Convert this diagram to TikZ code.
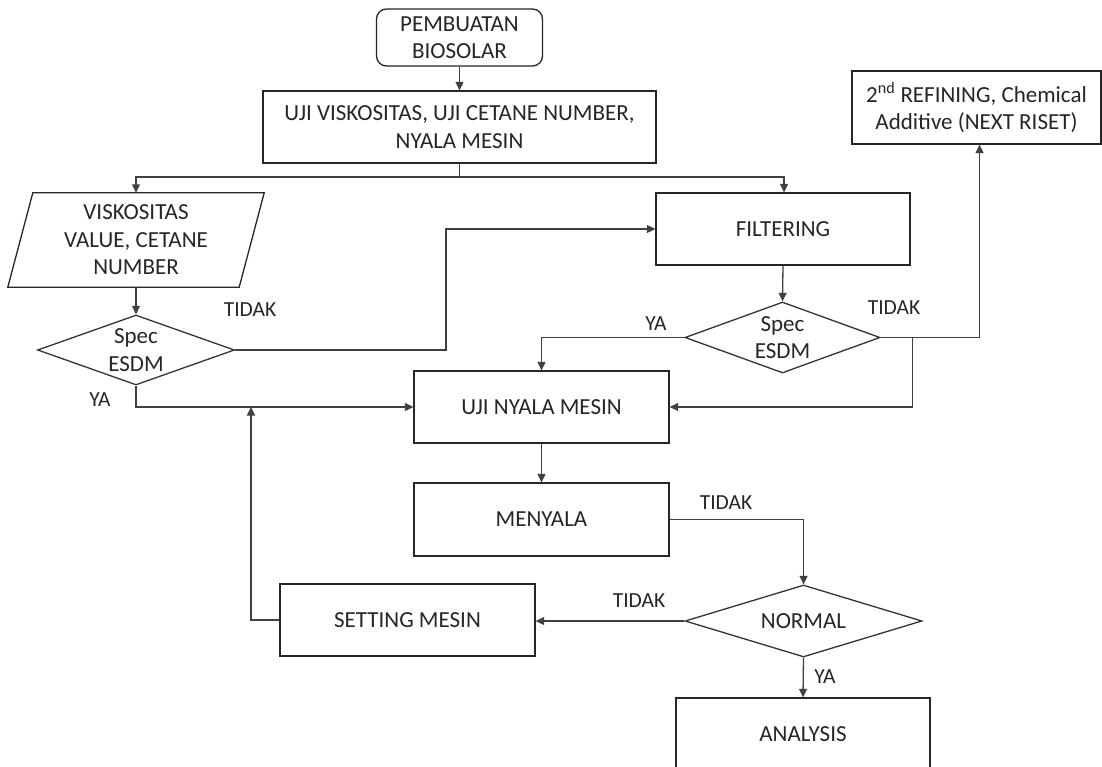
\documentclass[tikz,border=0pt]{standalone}
\usepackage{fontspec}
\setmainfont{Carlito}
\usetikzlibrary{shapes.geometric,arrows.meta,calc}
\begin{document}
\begin{tikzpicture}[x=1pt,y=-1pt,
  every node/.style={font=\fontsize{23}{27.5}\selectfont, text=black!85, align=center},
  box/.style={draw=black!85, line width=1.3pt, rectangle, inner sep=0pt},
  dia/.style={draw=black!80, line width=1.3pt, diamond, inner sep=0pt},
  lbl/.style={font=\fontsize{21.5}{25}\selectfont},
  conn/.style={draw=black!75, line width=1.3pt},
  arr/.style={conn, -{Triangle[length=8.5pt,width=8pt]}}
]
\clip (0,0) rectangle (1102,767);
\fill[white] (0,0) rectangle (1102,767);

\node[box, rounded corners=10pt, minimum width=166pt, minimum height=57pt] (start) at (459.5,37.5) {PEMBUATAN\\BIOSOLAR};
\node[box, minimum width=393pt, minimum height=72pt] (uji) at (459.5,127) {UJI VISKOSITAS, UJI CETANE NUMBER,\\NYALA MESIN};
\node[inner sep=0pt, minimum width=231pt, minimum height=94pt] (data) at (136,240) {VISKOSITAS\\VALUE, CETANE\\NUMBER};
\draw[draw=black!85, line width=1.3pt] ($(data.north west)+(12.5,0)$) -- ($(data.north east)+(12.5,0)$) -- ($(data.south east)+(-12.5,0)$) -- ($(data.south west)+(-12.5,0)$) -- cycle;
\node[box, minimum width=254pt, minimum height=72pt] (filter) at (783,229) {FILTERING};
\node[box, minimum width=249pt, minimum height=73pt] (ref) at (976.5,107.5) {2\textsuperscript{nd} REFINING, Chemical\\Additive (NEXT RISET)};
\node[dia, minimum width=197pt, minimum height=70pt, label={[align=center]center:Spec\\ESDM}] (d1) at (136,350) {};
\node[dia, minimum width=195pt, minimum height=71pt, label={[align=center]center:Spec\\ESDM}] (d2) at (782.5,337.5) {};
\node[box, minimum width=255pt, minimum height=72pt] (nyala) at (541.5,407) {UJI NYALA MESIN};
\node[box, minimum width=255pt, minimum height=73pt] (menyala) at (541.5,519.5) {MENYALA};
\node[dia, minimum width=237pt, minimum height=72pt, label={center:NORMAL}] (normal) at (803.5,621) {};
\node[box, minimum width=255pt, minimum height=72pt] (setting) at (407.5,620) {SETTING MESIN};
\node[box, minimum width=254pt, minimum height=72pt] (analysis) at (803,734) {ANALYSIS};

\node[lbl] (t1) at (250,310) {TIDAK};
\node[lbl] (y1) at (100,400) {YA};
\node[lbl] (y2) at (656,324) {YA};
\node[lbl] (t2) at (894,308) {TIDAK};
\node[lbl] (t3) at (726,503) {TIDAK};
\node[lbl] (t4) at (639,601) {TIDAK};
\node[lbl] (y3) at (825,677) {YA};

\coordinate (split) at (459.5,177);
\coordinate (j2) at ($(d2.east)+(32,0)$);
\coordinate (merge) at (251,407);

\draw[arr] (start.south) -- (uji.north);
\draw[conn] (uji.south) -- (split);
\draw[arr] (split) -| (data.north);
\draw[arr] (split) -| ([xshift=1pt]filter.north);
\draw[arr] (data.south) -- (d1.north);
\draw[arr] (d1.east) -- (446,350) |- (filter.west);
\draw[arr] (d1.south) |- (nyala.west);
\draw[arr] (filter.south) -- (d2.north);
\draw[arr] (d2.west) -| (nyala.north);
\draw[arr] (d2.east) -| ([xshift=3pt]ref.south);
\draw[arr] (j2) |- (nyala.east);
\draw[arr] (nyala.south) -- (menyala.north);
\draw[arr] (menyala.east) -| (normal.north);
\draw[arr] (normal.west) -- (setting.east |- normal.west);
\draw[arr] (setting.west) -| (merge);
\draw[arr] (normal.south) -- (analysis.north);
\end{tikzpicture}
\end{document}
